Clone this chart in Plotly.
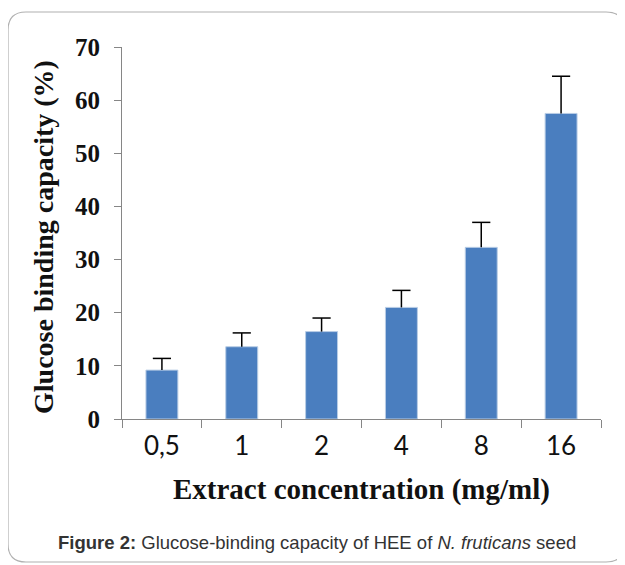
import plotly.graph_objects as go

categories = ["0,5", "1", "2", "4", "8", "16"]
binding_capacity = [9.2, 13.6, 16.45, 21.0, 32.3, 57.5]
error_plus = [2.2, 2.6, 2.55, 3.2, 4.7, 7.0]
y_ticks = [0, 10, 20, 30, 40, 50, 60, 70]

# page has an 8px body margin; figure coordinates below are page coords minus 8
W, H = 617, 557
L, R, T, B = 114, 24, 39, 146
OFF = 8

fig = go.Figure()
fig.add_trace(go.Bar(
    x=categories, y=binding_capacity,
    marker=dict(color="#4a7ebf", line=dict(color="#b9cde5", width=1)),
    width=0.4,
))

# upward-only error bars: stem + top cap
stem_x, stem_y = [], []
for c, v, e in zip(categories, binding_capacity, error_plus):
    stem_x += [c, c, None]
    stem_y += [v, v + e, None]
fig.add_trace(go.Scatter(x=stem_x, y=stem_y, mode="lines",
                         line=dict(color="black", width=1.5), hoverinfo="skip"))
fig.add_trace(go.Scatter(x=categories, y=[v + e for v, e in zip(binding_capacity, error_plus)],
                         mode="markers",
                         marker=dict(symbol="line-ew", size=13, line=dict(color="black", width=1.5)),
                         hoverinfo="skip"))

pw = W - L - R
ph = H - T - B
def px_x(x):
    return (x - OFF - L) / pw
def px_y(y):
    return (H - B - (y - OFF)) / ph

# rounded border (page coords)
x0, x1, y0, y1, r = 8, 624, 12, 562, 18
path = (f"M {px_x(x0+r)},{px_y(y0)} L {px_x(x1-r)},{px_y(y0)} "
        f"Q {px_x(x1)},{px_y(y0)} {px_x(x1)},{px_y(y0+r)} "
        f"L {px_x(x1)},{px_y(y1-r)} Q {px_x(x1)},{px_y(y1)} {px_x(x1-r)},{px_y(y1)} "
        f"L {px_x(x0+r)},{px_y(y1)} Q {px_x(x0)},{px_y(y1)} {px_x(x0)},{px_y(y1-r)} "
        f"L {px_x(x0)},{px_y(y0+r)} Q {px_x(x0)},{px_y(y0)} {px_x(x0+r)},{px_y(y0)} Z")

serif = "Liberation Serif, Times New Roman, serif"

fig.update_layout(
    width=W, height=H,
    margin=dict(l=L, r=R, t=T, b=B),
    paper_bgcolor="white", plot_bgcolor="white",
    showlegend=False,
    shapes=[dict(type="path", xref="paper", yref="paper", path=path,
                 line=dict(color="#b0b0b0", width=1.2), layer="below")],
    xaxis=dict(
        type="category", showline=True, linecolor="#868686", linewidth=1.2,
        ticks="outside", tickson="boundaries", ticklen=8, tickcolor="#868686",
        tickfont=dict(family="Lato, Open Sans, sans-serif", size=26, color="#111"),
        ticklabelstandoff=4, showgrid=False,
    ),
    yaxis=dict(
        range=[0, 70], tickvals=y_ticks, showline=True, linecolor="#868686", linewidth=1.2,
        ticks="outside", ticklen=7, tickcolor="#868686", showgrid=False, zeroline=False,
        tickfont=dict(family=serif, size=25, color="#111", weight="bold"),
        ticklabelstandoff=9,
    ),
    annotations=[
        dict(text="Glucose binding capacity (%)", textangle=-90,
             xref="paper", yref="paper", x=px_x(43), y=px_y(237),
             showarrow=False, xanchor="center", yanchor="middle",
             font=dict(family=serif, size=28, color="#111", weight="bold")),
        dict(text="Extract concentration (mg/ml)",
             xref="paper", yref="paper", x=px_x(361), y=px_y(489),
             showarrow=False, xanchor="center", yanchor="middle",
             font=dict(family=serif, size=29, color="#111", weight="bold")),
        dict(text="<b>Figure 2:</b> Glucose-binding capacity of HEE of <i>N. fruticans</i> seed",
             xref="paper", yref="paper", x=px_x(317), y=px_y(542),
             showarrow=False, xanchor="center", yanchor="middle",
             font=dict(family="Liberation Sans, Arial, sans-serif", size=18.5, color="#333")),
    ],
)

fig.write_html("out.html")
